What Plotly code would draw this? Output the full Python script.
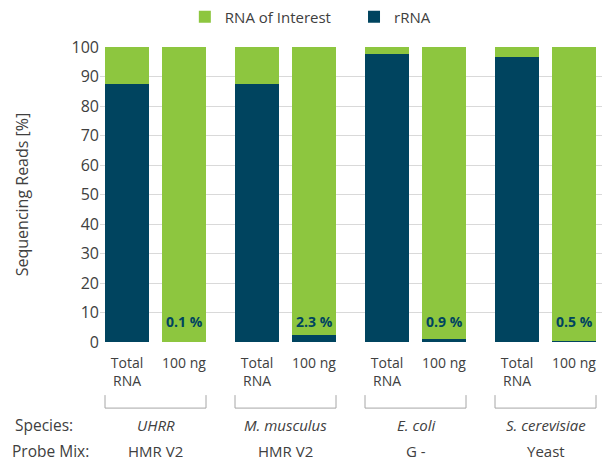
import plotly.graph_objects as go

groups = ["UHRR", "M. musculus", "E. coli", "S. cerevisiae"]
probe_mix = ["HMR V2", "HMR V2", "G -", "Yeast"]
samples = ["Total<br>RNA", "100 ng"]
rrna = [87.5, 0.1, 87.5, 2.3, 97.5, 0.9, 96.5, 0.5]
interest = [round(100 - v, 1) for v in rrna]
pct_labels = ["0.1 %", "2.3 %", "0.9 %", "0.5 %"]

GREEN = "#8DC63F"
BLUE = "#00445F"
TXT = "#404040"
FONT = "Open Sans"

group_pitch = 130 / 57
xs = [g * group_pitch + k for g in range(len(groups)) for k in range(2)]
bw = 44 / 57

fig = go.Figure()
fig.add_trace(go.Bar(x=xs, y=rrna, name="rRNA", marker_color=BLUE, width=bw,
                     marker_line_width=0, legend="legend2", showlegend=True))
fig.add_trace(go.Bar(x=xs, y=interest, name="RNA of Interest", marker_color=GREEN,
                     width=bw, marker_line_width=0, legend="legend", showlegend=True))

annotations = []
for g in range(len(groups)):
    x2 = xs[2 * g + 1]
    annotations.append(dict(x=x2, y=7.0, xref="x", yref="y", text="<b>" + pct_labels[g] + "</b>",
                            showarrow=False, font=dict(family=FONT, size=14, color=BLUE)))
    c = (xs[2 * g] + xs[2 * g + 1]) / 2
    annotations.append(dict(x=c, y=-0.282, xref="x", yref="paper", yanchor="middle",
                            text="<i>" + groups[g] + "</i>",
                            showarrow=False, font=dict(family=FONT, size=15, color=TXT)))
    annotations.append(dict(x=c, y=-0.369, xref="x", yref="paper", yanchor="middle",
                            text=probe_mix[g],
                            showarrow=False, font=dict(family=FONT, size=15, color=TXT)))

annotations.append(dict(x=-0.1733, y=-0.282, xref="paper", yref="paper", yanchor="middle",
                        text="Species:", xanchor="left", showarrow=False,
                        font=dict(family=FONT, size=15.5, color=TXT)))
annotations.append(dict(x=-0.179, y=-0.369, xref="paper", yref="paper", yanchor="middle",
                        text="Probe Mix:", xanchor="left", showarrow=False,
                        font=dict(family=FONT, size=15.5, color=TXT)))

shapes = []
for g in range(len(groups)):
    x0 = xs[2 * g] - bw / 2
    x1 = xs[2 * g + 1] + bw / 2
    line = dict(color="#A6A6A6", width=1)
    shapes.append(dict(type="line", xref="x", yref="paper", x0=x0, x1=x0, y0=-0.18, y1=-0.224, line=line))
    shapes.append(dict(type="line", xref="x", yref="paper", x0=x1, x1=x1, y0=-0.18, y1=-0.224, line=line))
    shapes.append(dict(type="line", xref="x", yref="paper", x0=x0, x1=x1, y0=-0.224, y1=-0.224, line=line))

fig.update_layout(
    width=602, height=461,
    barmode="stack",
    showlegend=True,
    plot_bgcolor="white", paper_bgcolor="white",
    margin=dict(l=100, r=0, t=47, b=119, autoexpand=False),
    font=dict(family=FONT, size=14, color=TXT),
    legend=dict(orientation="h", x=0.169, xanchor="left", y=1.102, yanchor="middle",
                font=dict(size=15, color=TXT), bgcolor="rgba(0,0,0,0)", visible=True),
    legend2=dict(orientation="h", x=0.506, xanchor="left", y=1.102, yanchor="middle",
                 font=dict(size=15, color=TXT), bgcolor="rgba(0,0,0,0)", visible=True),
    xaxis=dict(range=[-27 / 57, 475 / 57], tickvals=xs, ticktext=samples * 4,
               showgrid=False, zeroline=False, showline=False, automargin=False,
               ticks="outside", ticklen=8, tickcolor="rgba(0,0,0,0)",
               tickfont=dict(size=14, color=TXT)),
    yaxis=dict(range=[0, 100], dtick=10, showgrid=True, gridcolor="#D9D9D9", gridwidth=1,
               zeroline=False, showline=False, ticks="", tickfont=dict(size=16, color=TXT),
               automargin=False,
               title=dict(text="Sequencing Reads [%]", font=dict(size=16, color=TXT), standoff=38)),
    annotations=annotations,
    shapes=shapes,
    bargap=0,
)

fig.write_html("out.html", config={"displayModeBar": False},
               post_script="document.body.style.margin='0';document.body.style.overflow='hidden';")
